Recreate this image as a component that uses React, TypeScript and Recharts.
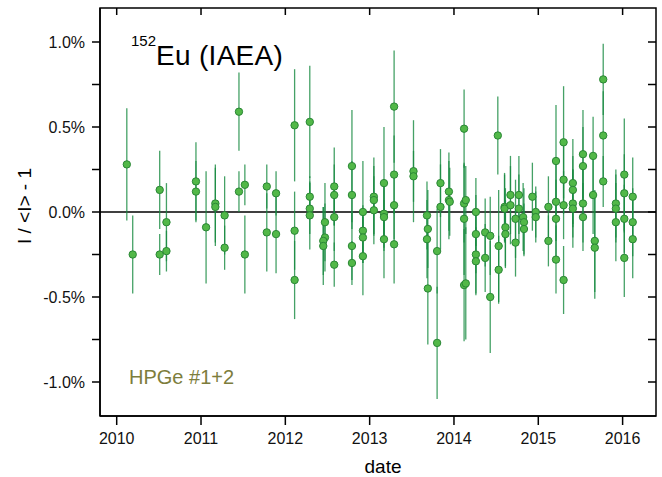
import React from 'react';
import { ScatterChart, Scatter, XAxis, YAxis, ErrorBar, ReferenceLine, ReferenceArea, Customized } from 'recharts';

// Measurement dates (decimal years)
const dates = [
  2010.12, 2010.19, 2010.51, 2010.51, 2010.59, 2010.59, 2010.94, 2010.94, 2011.06, 2011.17,
  2011.17, 2011.28, 2011.28, 2011.45, 2011.45, 2011.52, 2011.52, 2011.78, 2011.78, 2011.89,
  2011.89, 2012.11, 2012.11, 2012.11, 2012.29, 2012.29, 2012.29, 2012.29, 2012.47, 2012.47,
  2012.45, 2012.45, 2012.58, 2012.58, 2012.58, 2012.58, 2012.79, 2012.79, 2012.79, 2012.79,
  2012.92, 2012.92, 2012.92, 2012.92, 2013.05, 2013.05, 2013.05, 2013.17, 2013.17, 2013.17,
  2013.17, 2013.29, 2013.29, 2013.29, 2013.29, 2013.52, 2013.52, 2013.68, 2013.69, 2013.68,
  2013.69, 2013.80, 2013.80, 2013.84, 2013.84, 2013.94, 2013.94, 2013.95, 2014.12, 2014.12,
  2014.12, 2014.12, 2014.14, 2014.14, 2014.26, 2014.26, 2014.26, 2014.26, 2014.37, 2014.37,
  2014.43, 2014.43, 2014.52, 2014.53, 2014.53, 2014.60, 2014.60, 2014.61, 2014.61, 2014.67,
  2014.67, 2014.73, 2014.73, 2014.77, 2014.77, 2014.82, 2014.83, 2014.83, 2014.93, 2014.97,
  2014.97, 2015.12, 2015.12, 2015.21, 2015.21, 2015.21, 2015.21, 2015.30, 2015.30, 2015.30,
  2015.30, 2015.41, 2015.41, 2015.41, 2015.41, 2015.53, 2015.53, 2015.53, 2015.53, 2015.65,
  2015.65, 2015.67, 2015.67, 2015.77, 2015.77, 2015.77, 2015.92, 2015.92, 2015.92, 2016.02,
  2016.02, 2016.02, 2016.02, 2016.12, 2016.12, 2016.12,
];

// Relative deviation I/<I> - 1, in %
const values = [
  0.28, -0.25, 0.13, -0.25, -0.06, -0.23, 0.18, 0.12, -0.09, 0.05,
  0.03, -0.02, -0.21, 0.59, 0.12, 0.16, -0.25, 0.15, -0.12, 0.11,
  -0.13, 0.51, -0.11, -0.40, 0.53, 0.09, 0.02, -0.02, -0.06, -0.15,
  -0.17, -0.20, 0.15, 0.10, -0.03, -0.31, 0.27, 0.10, -0.20, -0.30,
  0.00, -0.11, -0.15, -0.26, 0.09, 0.07, 0.01, 0.17, -0.01, -0.03,
  -0.16, 0.62, 0.22, 0.04, -0.19, 0.24, 0.21, -0.02, -0.10, -0.16,
  -0.45, -0.23, -0.77, 0.17, 0.03, 0.12, 0.07, 0.06, 0.49, 0.05,
  -0.04, -0.43, 0.07, -0.42, 0.00, -0.13, -0.25, -0.29, -0.12, -0.27,
  -0.14, -0.50, 0.45, -0.20, -0.34, 0.03, 0.02, -0.09, -0.13, 0.10,
  0.04, -0.04, -0.18, 0.10, 0.02, -0.03, -0.06, -0.10, 0.09, 0.00,
  -0.03, 0.03, -0.17, 0.30, 0.06, -0.04, -0.28, 0.41, 0.19, 0.04,
  -0.40, 0.17, 0.13, 0.05, 0.02, 0.34, 0.27, 0.05, -0.03, 0.33,
  0.10, -0.17, -0.21, 0.78, 0.45, 0.18, 0.05, 0.02, -0.06, 0.22,
  0.11, -0.04, -0.27, 0.09, -0.06, -0.16,
];

// Uncertainties, in %
const errors = [
  0.33, 0.23, 0.23, 0.12, 0.23, 0.12, 0.23, 0.18, 0.33, 0.23,
  0.23, 0.23, 0.13, 0.23, 0.12, 0.12, 0.23, 0.13, 0.23, 0.13,
  0.23, 0.33, 0.23, 0.23, 0.33, 0.12, 0.15, 0.20, 0.23, 0.20,
  0.20, 0.23, 0.23, 0.18, 0.20, 0.13, 0.33, 0.20, 0.20, 0.13,
  0.30, 0.15, 0.15, 0.23, 0.23, 0.20, 0.20, 0.33, 0.20, 0.20,
  0.23, 0.33, 0.23, 0.20, 0.23, 0.30, 0.15, 0.20, 0.23, 0.23,
  0.33, 0.25, 0.33, 0.20, 0.25, 0.23, 0.23, 0.20, 0.23, 0.23,
  0.33, 0.33, 0.20, 0.33, 0.20, 0.23, 0.23, 0.20, 0.20, 0.20,
  0.23, 0.33, 0.23, 0.33, 0.20, 0.20, 0.20, 0.23, 0.20, 0.23,
  0.23, 0.23, 0.20, 0.23, 0.20, 0.20, 0.20, 0.15, 0.20, 0.15,
  0.15, 0.18, 0.15, 0.33, 0.23, 0.23, 0.20, 0.33, 0.20, 0.20,
  0.20, 0.26, 0.20, 0.20, 0.23, 0.26, 0.23, 0.23, 0.20, 0.23,
  0.23, 0.30, 0.30, 0.21, 0.26, 0.15, 0.20, 0.20, 0.23, 0.33,
  0.23, 0.20, 0.23, 0.23, 0.20, 0.23,
];

const yearTicks = [2010, 2011, 2012, 2013, 2014, 2015, 2016];
const yTicks = [-1, -0.75, -0.5, -0.25, 0, 0.25, 0.5, 0.75, 1];
const xDomain = [2009.802, 2016.396];
const yDomain = [-1.2, 1.2];

const data = dates.map((d, i) => ({ date: d, value: values[i], err: errors[i] }));

const FONT = "'Liberation Sans', Arial, Helvetica, sans-serif";
const CHART_W = 662;
const CHART_H = 477;
const MARGIN = { top: 8, right: 6, bottom: 0, left: 0 };
const Y_AXIS_W = 100;
const X_AXIS_H = 61;
const PLOT_LEFT = MARGIN.left + Y_AXIS_W;
const PLOT_RIGHT = CHART_W - MARGIN.right;
const PLOT_TOP = MARGIN.top;
const PLOT_BOTTOM = CHART_H - MARGIN.bottom - X_AXIS_H;

const yFormat = (v: number) => {
  const h = v * 2;
  return Math.abs(h - Math.round(h)) < 1e-9 ? `${v.toFixed(1)}%` : '';
};

const Dot = (props: any) => {
  const { cx, cy } = props;
  if (cx == null || cy == null) return <g />;
  return <circle cx={cx} cy={cy} r={3.7} fill="#52b848" stroke="#2a8736" strokeWidth={1} />;
};

// Mirrored inward ticks on the top and right frame edges (same tick arrays as the axes)
const FrameTicks = () => {
  const xPix = (t: number) =>
    PLOT_LEFT + ((t - xDomain[0]) / (xDomain[1] - xDomain[0])) * (PLOT_RIGHT - PLOT_LEFT);
  const yPix = (v: number) =>
    PLOT_TOP + ((yDomain[1] - v) / (yDomain[1] - yDomain[0])) * (PLOT_BOTTOM - PLOT_TOP);
  return (
    <g stroke="#000" strokeWidth={1.5}>
      {yearTicks.map((t) => (
        <line key={`t${t}`} x1={xPix(t)} x2={xPix(t)} y1={PLOT_TOP} y2={PLOT_TOP + 7} />
      ))}
      {yTicks.map((t) => (
        <line key={`r${t}`} x1={PLOT_RIGHT} x2={PLOT_RIGHT - 8} y1={yPix(t)} y2={yPix(t)} />
      ))}
    </g>
  );
};

const Annotations = () => (
  <g fontFamily={FONT}>
    <FrameTicks />
    <text x={131} y={46} fontSize={15} fill="#000">152</text>
    <text x={156} y={65} fontSize={28} fill="#000" letterSpacing={0.3}>Eu (IAEA)</text>
    <text x={129} y={384} fontSize={20} fill="#7d7d3c">HPGe #1+2</text>
    <text transform="rotate(-90)" x={-206} y={31} fontSize={19} fill="#000" textAnchor="middle">
      I / &lt;I&gt; - 1
    </text>
    <text x={383} y={473} fontSize={19} fill="#000" textAnchor="middle">date</text>
  </g>
);

export default function App() {
  return (
    <div style={{ position: 'absolute', left: 0, top: 0, background: '#fff' }}>
      <ScatterChart width={CHART_W} height={CHART_H} margin={MARGIN}>
        <XAxis
          xAxisId="bottom"
          type="number"
          dataKey="date"
          domain={xDomain}
          ticks={yearTicks}
          allowDataOverflow
          height={X_AXIS_H}
          tickSize={9}
          tickMargin={8}
          stroke="#000"
          strokeWidth={1.5}
          tick={{ fontSize: 16, fill: '#111', fontFamily: FONT }}
          tickFormatter={(v: number) => String(v)}
        />
        <YAxis
          yAxisId="left"
          type="number"
          dataKey="value"
          domain={yDomain}
          ticks={yTicks}
          allowDataOverflow
          width={Y_AXIS_W}
          tickSize={8}
          tickMargin={7}
          stroke="#000"
          strokeWidth={1.5}
          tick={{ fontSize: 16, fill: '#111', fontFamily: FONT }}
          tickFormatter={yFormat}
        />
        <ReferenceArea
          xAxisId="bottom"
          yAxisId="left"
          x1={xDomain[0]}
          x2={xDomain[1]}
          y1={yDomain[0]}
          y2={yDomain[1]}
          fill="none"
          fillOpacity={0}
          stroke="#000"
          strokeWidth={1.5}
          ifOverflow="visible"
        />
        <ReferenceLine y={0} xAxisId="bottom" yAxisId="left" stroke="#000" strokeWidth={1.5} />
        <Scatter
          data={data}
          xAxisId="bottom"
          yAxisId="left"
          shape={<Dot />}
          isAnimationActive={false}
        >
          <ErrorBar
            dataKey="err"
            direction="y"
            width={0}
            stroke="#178a40"
            strokeOpacity={0.8}
            strokeWidth={1.3}
            isAnimationActive={false}
          />
        </Scatter>
        <Customized component={<Annotations />} />
      </ScatterChart>
    </div>
  );
}
